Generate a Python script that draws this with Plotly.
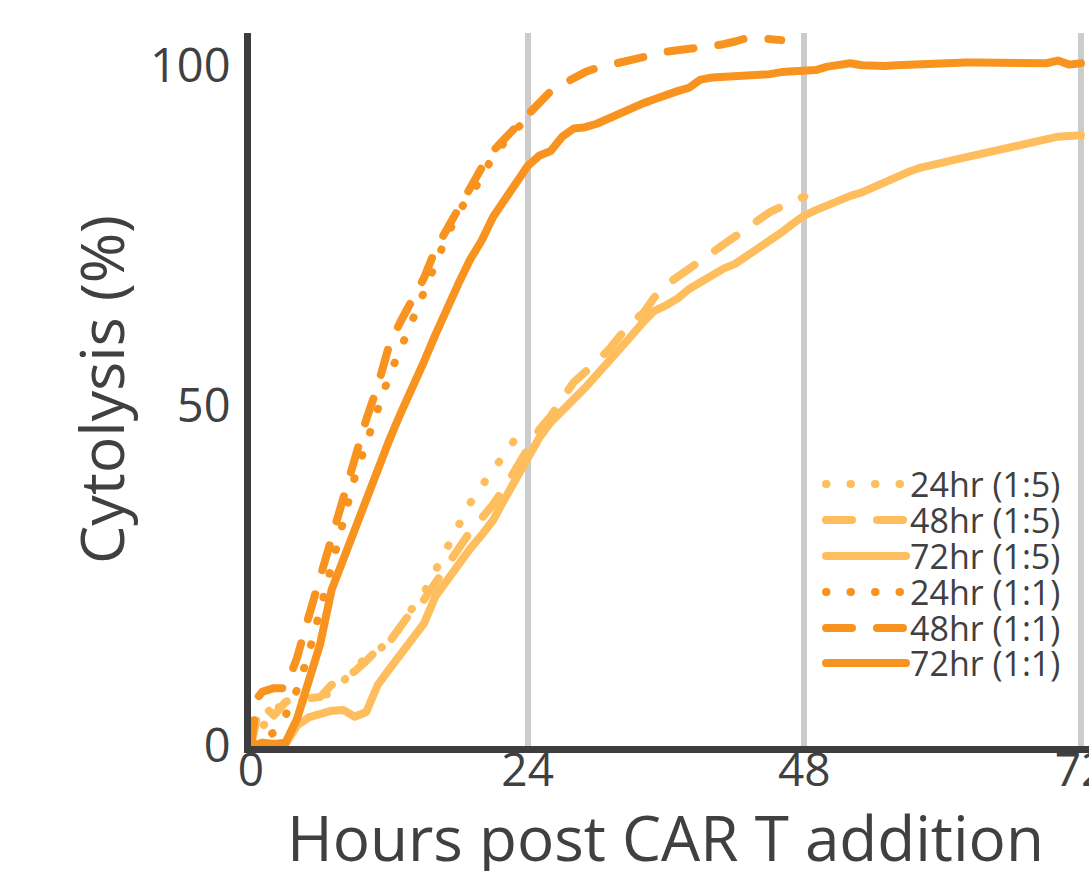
import plotly.graph_objects as go

# ---------------- data ----------------
hours_24 = [0, 1, 2, 3, 4, 5, 6, 7, 8, 9, 10, 11, 12, 13, 14, 15, 16, 17, 18, 19, 20, 21, 22, 23, 24]
hours_48 = [0, 0.5, 1, 2, 3, 4, 5, 6, 7, 8, 9, 10, 11, 12, 13, 14, 15, 16, 17, 18, 19, 20, 21, 22, 23, 24,
            25, 26, 27, 28, 29, 30, 31, 32, 33, 34, 35, 36, 37, 38, 39, 40, 41, 42, 43, 44, 45, 46, 47, 48]
hours_48b = [0, 0.5, 1, 2, 3, 4, 5, 6, 7, 8, 9, 10, 11, 12, 13, 14, 15, 16, 17, 18, 19, 20, 21, 22, 23, 24,
             25, 26, 27, 28, 29, 30, 31, 32, 33, 34, 35, 36, 37, 38, 39, 40, 41, 42, 43, 44, 45, 46]
hours_72 = [0, 1, 2, 3, 4, 5, 6, 7, 8, 9, 10, 11, 12, 13, 14, 15, 16, 17, 18, 19, 20, 21, 22, 23, 24,
            25, 26, 27, 28, 29, 30, 31, 32, 33, 34, 35, 36, 37, 38, 39, 40, 41, 42, 43, 44, 45, 46, 47, 48,
            49, 50, 51, 52, 53, 54, 55, 56, 57, 58, 59, 60, 61, 62, 63, 64, 65, 66, 67, 68, 69, 70, 71, 72]

cyto_24_1to5 = [0, 3, 5.5, 6, 6.5, 6.8, 7.2, 7.8, 9.5, 11.5,
                13, 14, 15.5, 17.5, 20.3, 22.5, 25.8, 29.3, 32.5, 35.7,
                38.2, 40.5, 43, 45.3, 47]
cyto_48_1to5 = [0, 4,
                6, 4.5, 6.5, 7, 7, 7.2, 9, 10, 11, 12.5,
                14.3, 15.3, 17.8, 20, 21.5, 24, 27, 29.3, 31.5, 33.5,
                35.5, 38, 41, 43.5, 46.5, 48.5, 51, 53.5, 55, 56.5,
                58.2, 60.3, 62.3, 63.6, 66, 67.8, 69, 70, 71.3, 72.5,
                73.5, 75, 76, 77.2, 78.5, 79.3, 80.1, 80.8]
cyto_72_1to5 = [0, 0, 0, 0.3, 3, 4.2, 4.8, 5.2, 5.3, 4.3,
                5, 9, 11.3, 13.6, 15.5, 18, 22, 24.5, 26.8, 29,
                31, 33.2, 36.3, 39.2, 42.3, 45.3, 47.6, 49.5, 51, 52.7,
                54.5, 56.4, 58.3, 60.3, 62.3, 64, 64.8, 65.8, 67.2, 68.3,
                69.4, 70.2, 70.9, 72, 73.1, 74.3, 75.5, 76.8, 78, 78.8,
                79.6, 80.3, 80.9, 81.4, 82.2, 82.9, 83.6, 84.4, 85, 85.3,
                85.8, 86.2, 86.6, 87, 87.3, 87.7, 88.1, 88.5, 89, 89.3,
                89.6, 89.7, 89.8]

cyto_24_1to1 = [0, 1, 2, 4.5, 8.3, 13.5, 20, 27, 33.5, 39.5,
                44.5, 49.5, 54.5, 58.5, 62.8, 67, 71.5, 75, 78.5, 80.8,
                83.5, 86.8, 89, 90.8, 92]
cyto_48_1to1 = [0, 7,
                8, 8.5, 8.5, 13, 19, 25, 30.5, 37, 43, 48,
                53, 59, 62.5, 65.5, 68.8, 73, 76.2, 79.3, 82, 85,
                87.5, 89.3, 91, 93, 94.5, 96.3, 97.3, 98.3, 99.1, 99.7,
                100.1, 100.5, 100.9, 101.4, 101.9, 102.1, 102.3, 102.5, 102.7, 103,
                103.2, 103.6, 104.1, 104.1, 104, 103.8]
cyto_72_1to1 = [0, 0.5, 0.3, 0.5, 4, 9.5, 15, 23, 27.5, 31.5,
                36.5, 40.5, 45, 49, 52.5, 56.5, 60.5, 64.5, 68, 71.5,
                74.3, 77.8, 80.5, 82.8, 85.3, 86.8, 87.5, 89.6, 90.8, 91,
                91.5, 92.3, 93, 93.8, 94.5, 95.1, 95.8, 96.3, 96.8, 98,
                98.3, 98.4, 98.5, 98.6, 98.6, 98.8, 99.1, 99.2, 99.2, 99.4,
                99.9, 100.3, 100.4, 100.1, 100, 100, 100.1, 100.2, 100.2, 100.3,
                100.5, 100.5, 100.5, 100.5, 100.5, 100.5, 100.5, 100.4, 100.4, 100.4,
                100.8, 100.2, 100.4]

series_names = ["24hr (1:5)", "48hr (1:5)", "72hr (1:5)", "24hr (1:1)", "48hr (1:1)", "72hr (1:1)"]
x_ticks = [0, 24, 48, 72]
y_ticks = [0, 50, 100]
x_title = "Hours post CAR T addition"
y_title = "Cytolysis (%)"

# ---------------- style ----------------
LIGHT = "#FEBE5D"
DARK = "#F8931F"
TEXT = "#404040"
DOT = "0.5px,24px"
DASH = "26px,25px"
LW = 8

series = [
    (hours_24, cyto_24_1to5, LIGHT, DOT),
    (hours_48, cyto_48_1to5, LIGHT, DASH),
    (hours_72, cyto_72_1to5, LIGHT, "solid"),
    (hours_24, cyto_24_1to1, DARK, DOT),
    (hours_48b, cyto_48_1to1, DARK, DASH),
    (hours_72, cyto_72_1to1, DARK, "solid"),
]

fig = go.Figure()
for name, (xs, ys, col, dash) in zip(series_names, series):
    fig.add_trace(go.Scatter(x=xs, y=ys, mode="lines", name=name,
                             line=dict(color=col, width=LW, dash=dash)))

# plot-area geometry in pixels
W, H = 1089, 871
L, R, T, B = 251, 0, 33, 125
pw, ph = W - L - R, H - T - B


def px_x(px):
    return (px - L) / pw


def px_y(py):
    return (H - B - py) / ph


# custom legend (long line samples like the reference)
row_y = [484, 520, 556, 592, 628, 663]
for name, (xs, ys, col, dash), ry in zip(series_names, series, row_y):
    fig.add_shape(type="line", xref="paper", yref="paper",
                  x0=px_x(826), x1=px_x(906), y0=px_y(ry), y1=px_y(ry),
                  line=dict(color=col, width=LW, dash=dash))
    fig.add_annotation(xref="paper", yref="paper", x=px_x(908), y=px_y(ry),
                       text=name, showarrow=False, xanchor="left", yanchor="middle",
                       font=dict(size=34, color=TEXT, family="Open Sans"))

# x-axis title (placed as an annotation so it can sit at the figure's bottom edge)
fig.add_annotation(xref="paper", yref="paper", x=px_x(665), y=px_y(837),
                   text=x_title, showarrow=False, xanchor="center", yanchor="middle",
                   font=dict(size=62, color=TEXT, family="Open Sans"))

fig.update_layout(
    width=W, height=H,
    margin=dict(l=L, r=R, t=T, b=B, autoexpand=False),
    plot_bgcolor="white", paper_bgcolor="white",
    showlegend=False,
    font=dict(family="Open Sans", color=TEXT),
    xaxis=dict(range=[0, 72.7], tickvals=x_ticks, ticktext=[str(v) for v in x_ticks],
               showgrid=True, gridcolor="#cccccc", gridwidth=6, zeroline=False,
               showline=True, linecolor="#3d3d3d", linewidth=7, ticks="",
               tickfont=dict(size=46, color=TEXT), ticklabelstandoff=-22,
               ticklabeloverflow="allow", automargin=False),
    yaxis=dict(range=[0, 104.85], tickvals=y_ticks, ticktext=[str(v) for v in y_ticks],
               showgrid=False, zeroline=False,
               showline=True, linecolor="#3d3d3d", linewidth=7, ticks="",
               tickfont=dict(size=47, color=TEXT), ticklabelstandoff=4,
               title=dict(text=y_title, font=dict(size=61, color=TEXT), standoff=8),
               automargin=False),
)

post = """
document.documentElement.style.margin='0';
document.body.style.margin='0';
document.body.style.overflow='hidden';
var gd = document.getElementById('{plot_id}');
function rc(){
  gd.querySelectorAll('path.js-line, .shapelayer path').forEach(function(p){
    p.style.strokeLinecap='round'; p.style.strokeLinejoin='round';
  });
}
rc(); setTimeout(rc, 30); setTimeout(rc, 300);
if (gd.on) { gd.on('plotly_afterplot', rc); }
"""

fig.write_html("out.html", post_script=post, config={"displayModeBar": False})
